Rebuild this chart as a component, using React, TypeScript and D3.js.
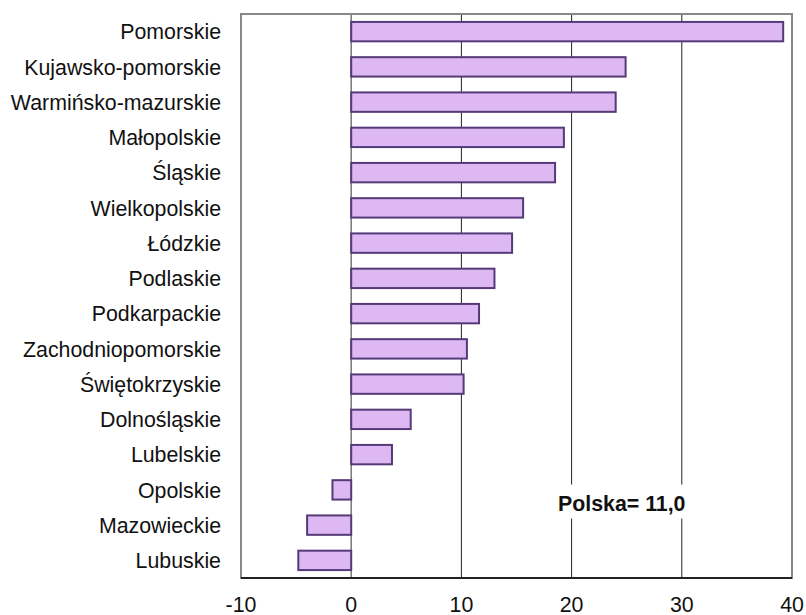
import React from "react";
import * as d3 from "d3";

const categories = [
  "Pomorskie",
  "Kujawsko-pomorskie",
  "Warmińsko-mazurskie",
  "Małopolskie",
  "Śląskie",
  "Wielkopolskie",
  "Łódzkie",
  "Podlaskie",
  "Podkarpackie",
  "Zachodniopomorskie",
  "Świętokrzyskie",
  "Dolnośląskie",
  "Lubelskie",
  "Opolskie",
  "Mazowieckie",
  "Lubuskie",
];
const values = [39.2, 24.9, 24.0, 19.3, 18.5, 15.6, 14.6, 13.0, 11.6, 10.5, 10.2, 5.4, 3.7, -1.7, -4.0, -4.8];
const xTicks = [-10, 0, 10, 20, 30, 40];
const annotation = "Polska= 11,0";

const W = 806;
const H = 615;
const left = 241;
const right = 792;
const top = 14;
const bottom = 578;
const FS = 21.33;

export default function App() {
  const x = d3.scaleLinear().domain([-10, 40]).range([left, right]);
  const y = d3.scaleBand<string>().domain(categories).range([top, bottom]).paddingInner(0.45).paddingOuter(0.225);
  const font = "Arial, 'Liberation Sans', Helvetica, sans-serif";
  const capOff = FS * 0.358;
  return (
    <svg width={W} height={H} style={{ position: "absolute", left: 0, top: 0, background: "#fff" }}>
      <rect x={0} y={0} width={W} height={H} fill="#fff" />
      {xTicks.filter((t) => t > 0 && t < 40).map((t) => (
        <line key={t} x1={x(t)} x2={x(t)} y1={top} y2={bottom} stroke="#222" strokeWidth={1} />
      ))}
      <line x1={x(0)} x2={x(0)} y1={top} y2={bottom} stroke="#777" strokeWidth={1.5} />
      <rect x={left} y={top} width={right - left} height={bottom - top} fill="none" stroke="#888" strokeWidth={2} />
      <line x1={left} x2={right} y1={bottom} y2={bottom} stroke="#222" strokeWidth={2} />
      {categories.map((c, i) => {
        const v = values[i];
        const x0 = x(Math.min(0, v));
        const x1 = x(Math.max(0, v));
        return (
          <rect
            key={c}
            x={x0}
            y={y(c)!}
            width={x1 - x0}
            height={y.bandwidth()}
            fill="#DDB8F2"
            stroke="#553A78"
            strokeWidth={2}
          />
        );
      })}
      {categories.map((c) => (
        <text
          key={c}
          x={221}
          y={y(c)! + y.bandwidth() / 2 + capOff}
          textAnchor="end"
          fontFamily={font}
          fontSize={FS}
          fill="#111"
        >
          {c}
        </text>
      ))}
      {xTicks.map((t) => (
        <text
          key={t}
          x={x(t)}
          y={604.5 + capOff}
          textAnchor="middle"
          fontFamily={font}
          fontSize={FS}
          fill="#111"
        >
          {t}
        </text>
      ))}
      <rect x={x(18.6)} y={484.5} width={x(30.9) - x(18.6)} height={34} fill="#fff" />
      <text
        x={558}
        y={503.2 + capOff}
        fontFamily={font}
        fontSize={FS}
        fontWeight="bold"
        fill="#111"
      >
        {annotation}
      </text>
    </svg>
  );
}
